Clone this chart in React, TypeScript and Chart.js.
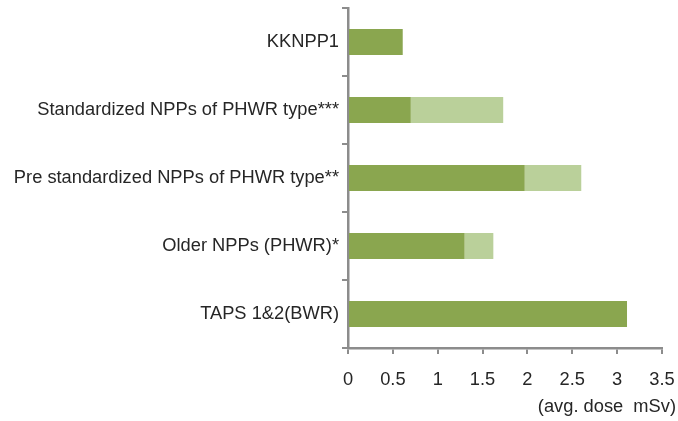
import React, { useEffect, useRef } from "react";
import { Chart, registerables } from "chart.js";

Chart.register(...registerables);

const categories = [
  "KKNPP1",
  "Standardized NPPs of PHWR type***",
  "Pre standardized NPPs of PHWR type**",
  "Older NPPs (PHWR)*",
  "TAPS 1&2(BWR)",
];
const baseDose = [0.61, 0.7, 1.97, 1.3, 3.11];
const extraDose = [0, 1.03, 0.63, 0.32, 0];
const axisTitle = "(avg. dose  mSv)";

const FONT = '"Liberation Sans", Arial, sans-serif';
const TEXT = "#262626";
const AXIS = "#8c8c8c";

export default function App() {
  const ref = useRef<HTMLCanvasElement | null>(null);

  useEffect(() => {
    document.body.style.margin = "0";
    const canvas = ref.current;
    if (!canvas) return;
    const titlePlugin = {
      id: "axisTitleRight",
      afterDraw(chart: any) {
        const ctx = chart.ctx;
        ctx.save();
        ctx.font = `18.3px ${FONT}`;
        ctx.fillStyle = TEXT;
        ctx.textAlign = "right";
        ctx.textBaseline = "middle";
        ctx.fillText(axisTitle, 676, 407);
        ctx.restore();
      },
    };
    const chart = new Chart(canvas, {
      type: "bar",
      data: {
        labels: categories,
        datasets: [
          {
            label: "base",
            data: baseDose,
            backgroundColor: "#8aa64f",
            barPercentage: 1,
            categoryPercentage: 0.382,
          },
          {
            label: "extra",
            data: extraDose,
            backgroundColor: "#bad09a",
            barPercentage: 1,
            categoryPercentage: 0.382,
          },
        ],
      },
      options: {
        indexAxis: "y",
        responsive: false,
        animation: false,
        devicePixelRatio: 1,
        layout: { padding: { top: 8, right: 16, bottom: 0, left: 0 } },
        plugins: {
          legend: { display: false },
          tooltip: { enabled: false },
        },
        scales: {
          x: {
            stacked: true,
            min: 0,
            max: 3.5,
            ticks: {
              stepSize: 0.5,
              color: TEXT,
              font: { family: FONT, size: 18.3 },
              padding: 15,
              maxRotation: 0,
              callback: (v: any) => String(Number(v)),
            },
            grid: {
              drawOnChartArea: false,
              drawTicks: true,
              tickLength: 6,
              color: AXIS,
              lineWidth: 2,
            },
            border: { display: true, color: AXIS, width: 2.5 },
            afterFit(scale: any) {
              scale.height = 73;
              scale.paddingLeft = 0;
              scale.paddingRight = 0;
            },
          },
          y: {
            stacked: true,
            ticks: {
              color: TEXT,
              font: { family: FONT, size: 18.3 },
              padding: 3,
            },
            grid: {
              drawOnChartArea: false,
              drawTicks: true,
              tickLength: 6,
              color: AXIS,
              lineWidth: 2,
            },
            border: { display: true, color: AXIS, width: 2.5 },
            afterFit(scale: any) {
              scale.width = 348;
              scale.paddingTop = 0;
              scale.paddingBottom = 0;
            },
          },
        },
      },
      plugins: [titlePlugin],
    });
    return () => chart.destroy();
  }, []);

  return (
    <div style={{ width: 678, height: 421 }}>
      <canvas ref={ref} width={678} height={421} style={{ display: "block", width: 678, height: 421 }} />
    </div>
  );
}
